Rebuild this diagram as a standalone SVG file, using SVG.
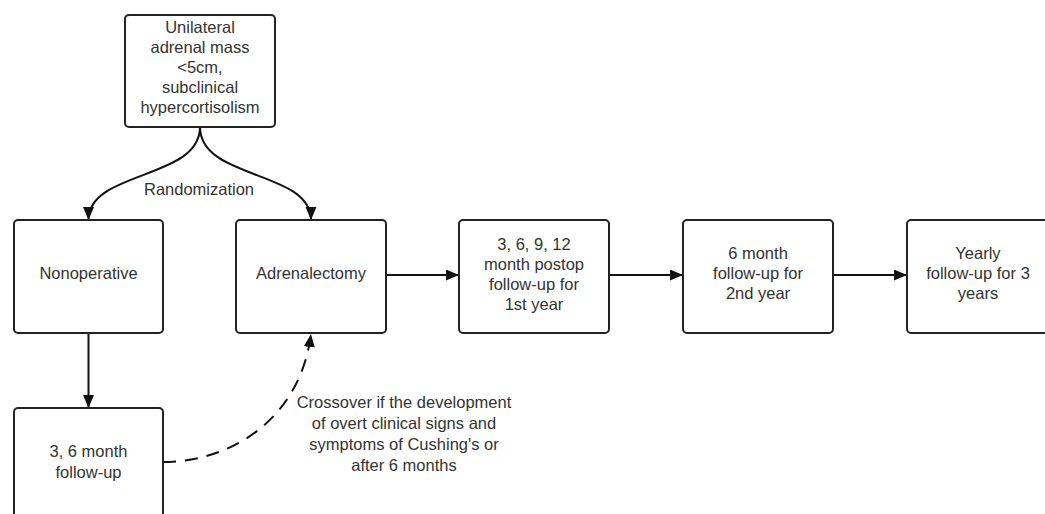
<svg xmlns="http://www.w3.org/2000/svg" width="1045" height="514" viewBox="0 0 1045 514">
<style>
.box{fill:#fff;stroke:#222;stroke-width:2}
.t{font-family:"Liberation Sans",Arial,sans-serif;font-size:16.5px;fill:#333;text-anchor:middle}
.c{fill:none;stroke:#111;stroke-width:2}
.d{stroke-dasharray:13 9}
</style>
<defs>
<marker id="ah" markerUnits="userSpaceOnUse" markerWidth="14" markerHeight="12" refX="13" refY="5.5" orient="auto" viewBox="0 0 14 12">
<path d="M0,0 L13,5.5 L0,11 z" fill="#111"/>
</marker>
</defs>
<rect width="1045" height="514" fill="#fff"/>
<g id="connectors">
<path class="c" d="M200,127 C200,180 88.5,170 88.5,220" marker-end="url(#ah)"/>
<path class="c" d="M200,127 C200,180 311,170 311,220" marker-end="url(#ah)"/>
<path class="c" d="M88.5,333 L88.5,408" marker-end="url(#ah)"/>
<path class="c" d="M386,275 L459,275" marker-end="url(#ah)"/>
<path class="c" d="M609,275 L683,275" marker-end="url(#ah)"/>
<path class="c" d="M833,275 L907,275" marker-end="url(#ah)"/>
<path class="c d" d="M163,462 C230,462 300,420 311,334" marker-end="url(#ah)"/>
<text class="t" x="199" y="195">Randomization</text>
<text class="t" x="404" y="408">Crossover if the development</text>
<text class="t" x="404" y="429">of overt clinical signs and</text>
<text class="t" x="404" y="450">symptoms of Cushing's or</text>
<text class="t" x="404" y="471">after 6 months</text>
</g>
<g id="node-mass">
<rect class="box" x="125" y="15" width="150" height="112" rx="4"/>
<text class="t" x="200" y="33">Unilateral</text>
<text class="t" x="200" y="53">adrenal mass</text>
<text class="t" x="200" y="73">&lt;5cm,</text>
<text class="t" x="200" y="93">subclinical</text>
<text class="t" x="200" y="113">hypercortisolism</text>
</g>
<g id="node-nonoperative">
<rect class="box" x="14" y="220" width="149" height="113" rx="4"/>
<text class="t" x="88.5" y="279">Nonoperative</text>
</g>
<g id="node-adrenalectomy">
<rect class="box" x="236" y="220" width="150" height="113" rx="4"/>
<text class="t" x="311" y="279">Adrenalectomy</text>
</g>
<g id="node-postop">
<rect class="box" x="459" y="220" width="150" height="113" rx="4"/>
<text class="t" x="534" y="250">3, 6, 9, 12</text>
<text class="t" x="534" y="270">month postop</text>
<text class="t" x="534" y="290">follow-up for</text>
<text class="t" x="534" y="310">1st year</text>
</g>
<g id="node-second-year">
<rect class="box" x="683" y="220" width="150" height="113" rx="4"/>
<text class="t" x="758" y="259">6 month</text>
<text class="t" x="758" y="279">follow-up for</text>
<text class="t" x="758" y="299">2nd year</text>
</g>
<g id="node-yearly">
<rect class="box" x="907" y="220" width="150" height="113" rx="4"/>
<text class="t" x="978" y="259">Yearly</text>
<text class="t" x="978" y="279">follow-up for 3</text>
<text class="t" x="978" y="299">years</text>
</g>
<g id="node-followup">
<rect class="box" x="14" y="408" width="149" height="113" rx="4"/>
<text class="t" x="88.5" y="457">3, 6 month</text>
<text class="t" x="88.5" y="478">follow-up</text>
</g>
</svg>
